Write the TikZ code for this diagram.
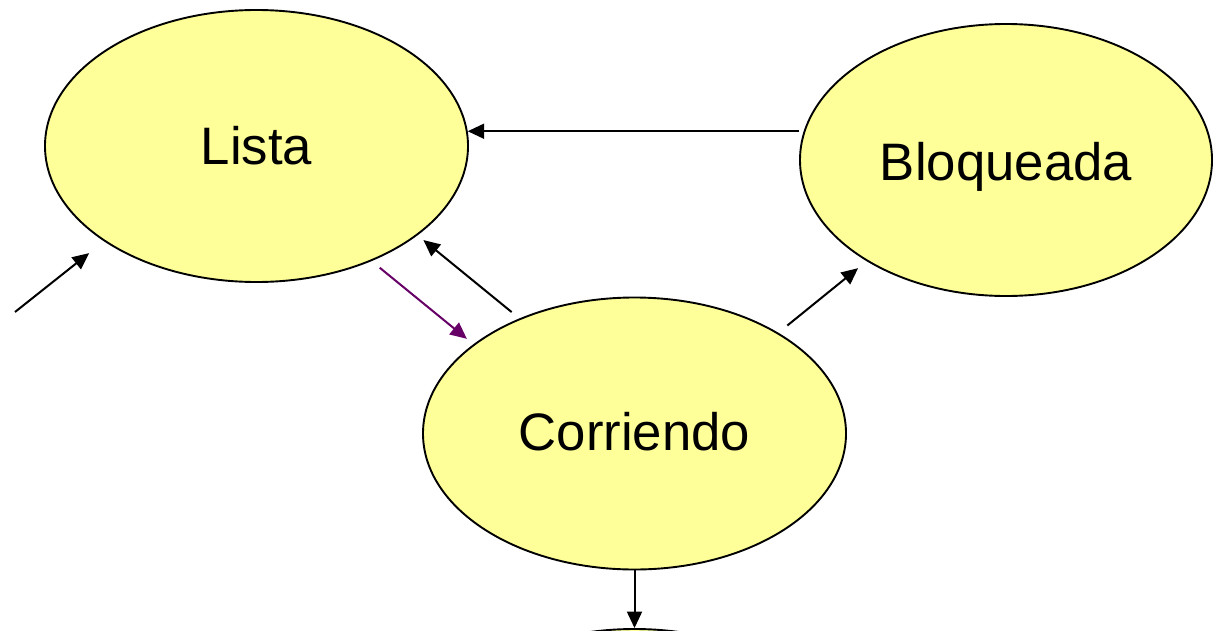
\documentclass[tikz,border=0pt]{standalone}
\usepackage{fontspec}
\setmainfont{Liberation Sans}
\usetikzlibrary{arrows.meta,shapes.geometric}
\definecolor{amarillo}{RGB}{255,255,153}
\definecolor{morado}{RGB}{102,0,102}

\begin{document}
\begin{tikzpicture}[x=0.2mm, y=-0.2mm,
  estado/.style={draw, ellipse, line width=0.38mm, fill=amarillo,
    minimum width=84.6mm, minimum height=54.4mm, inner sep=0pt,
    text height=7.2mm, text depth=0mm,
    font=\fontsize{30}{36}\selectfont},
  post/.style={-{Triangle[length=3.3mm,width=3mm]}, line width=0.4mm}]

  \useasboundingbox (0,0) rectangle (1213,630);
  \clip (0,0) rectangle (1213,630);

  \node [estado] (lista) at (256.5,146) {Lista};
  \node [estado,minimum width=82.4mm,text height=8mm] (bloq) at (1006,160) {Bloqueada};
  \node [estado,text height=6.6mm] (corr) at (634.5,433.5) {Corriendo};
  \node [estado] (fin) at (634.5,765) {};
  \coordinate (entrada) at (15,312);

  \path
    (entrada)           edge [post,shorten >=3.8mm] (lista.212)
    (lista.4 -| bloq.west) edge [post] (lista.4)
    (lista.-45)         edge [post,morado,shorten <=2.1mm,shorten >=1.7mm] (corr.151)
    (corr.135)          edge [post,shorten <=2mm,shorten >=1.5mm] (lista.-29)
    (corr.35)           edge [post,shorten <=2.3mm,shorten >=2.2mm] (bloq.-144)
    (corr.south)        edge [post] (fin.north)
  ;

\end{tikzpicture}
\end{document}
